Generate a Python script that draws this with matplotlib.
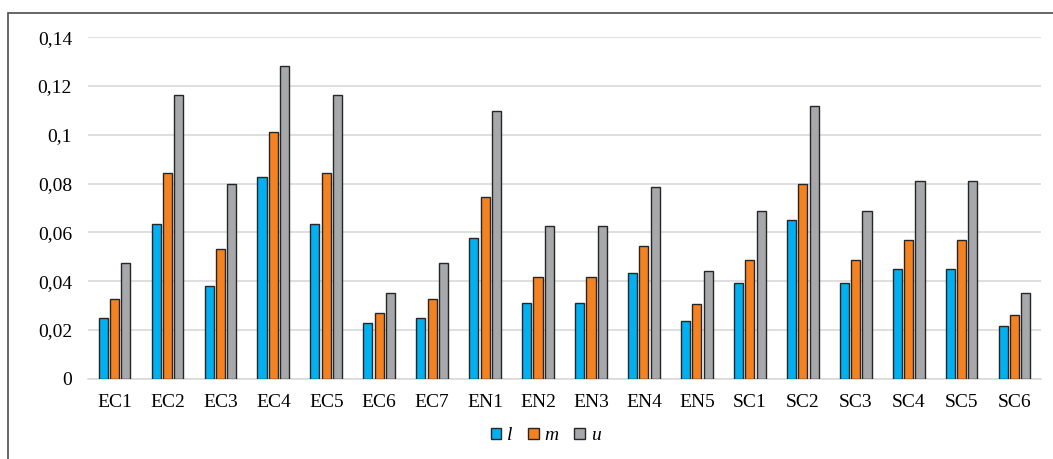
import numpy as np
import matplotlib
matplotlib.use("Agg")
from matplotlib import pyplot as plt
from matplotlib.patches import Rectangle
from matplotlib.ticker import FuncFormatter

categories = ['EC1', 'EC2', 'EC3', 'EC4', 'EC5', 'EC6', 'EC7',
              'EN1', 'EN2', 'EN3', 'EN4', 'EN5',
              'SC1', 'SC2', 'SC3', 'SC4', 'SC5', 'SC6']

# lower / middle / upper values for each criterion
l_vals = [0.0248, 0.0634, 0.0380, 0.0826, 0.0634, 0.0227, 0.0248,
          0.0576, 0.0312, 0.0312, 0.0433, 0.0237,
          0.0394, 0.0650, 0.0394, 0.0450, 0.0450, 0.0217]
m_vals = [0.0325, 0.0842, 0.0533, 0.1010, 0.0842, 0.0268, 0.0325,
          0.0745, 0.0418, 0.0418, 0.0544, 0.0305,
          0.0488, 0.0800, 0.0488, 0.0567, 0.0567, 0.0260]
u_vals = [0.0473, 0.1162, 0.0797, 0.1284, 0.1162, 0.0351, 0.0473,
          0.1099, 0.0628, 0.0628, 0.0788, 0.0440,
          0.0689, 0.1120, 0.0689, 0.0812, 0.0812, 0.0350]

series = [('l', l_vals, '#00B0F0'),
          ('m', m_vals, '#F58220'),
          ('u', u_vals, '#A7A8AB')]

plt.rcParams['font.family'] = ['Liberation Serif', 'DejaVu Serif']

fig = plt.figure(figsize=(10.53, 4.59), dpi=100)
ax = fig.add_axes([0.0836, 0.175, 0.9050, 0.7437])

x = np.arange(len(categories))
step = 0.214
width = 0.172
for i, (name, vals, col) in enumerate(series):
    ax.bar(x + (i - 1) * step, vals, width, color=col, edgecolor='#262626',
           linewidth=1.0, label=name, zorder=3)

ax.set_xlim(-0.5, len(categories) - 0.5)
ax.set_ylim(0, 0.14)
ax.set_yticks(np.arange(0, 0.141, 0.02))
ax.yaxis.set_major_formatter(FuncFormatter(lambda v, p: f"{round(v, 2):g}".replace('.', ',')))
ax.set_xticks(x)
ax.set_xticklabels(categories)
ax.tick_params(axis='both', length=0, labelsize=14, colors='black')
ax.tick_params(axis='y', pad=11.5)
ax.tick_params(axis='x', pad=11)
ax.grid(axis='y', color='#D9D9D9', linewidth=1.2, zorder=0)
for s in ['top', 'right', 'left']:
    ax.spines[s].set_visible(False)
ax.spines['bottom'].set_color('#D9D9D9')
ax.spines['bottom'].set_linewidth(1.2)

leg = fig.legend(loc='center', bbox_to_anchor=(545.5 / 1053, 1 - 436 / 459),
                 ncol=3, frameon=False, handlelength=0.55, handleheight=0.55,
                 handletextpad=0.3, columnspacing=0.8, prop={'size': 14, 'style': 'italic'})

# chart frame
fig.patches.append(Rectangle((8.3 / 1053, -0.1), 1.2, 1 - 12.7 / 459 + 0.1,
                             transform=fig.transFigure, fill=False,
                             edgecolor='#595959', linewidth=1.3))

fig.savefig('out.png', dpi=100)
